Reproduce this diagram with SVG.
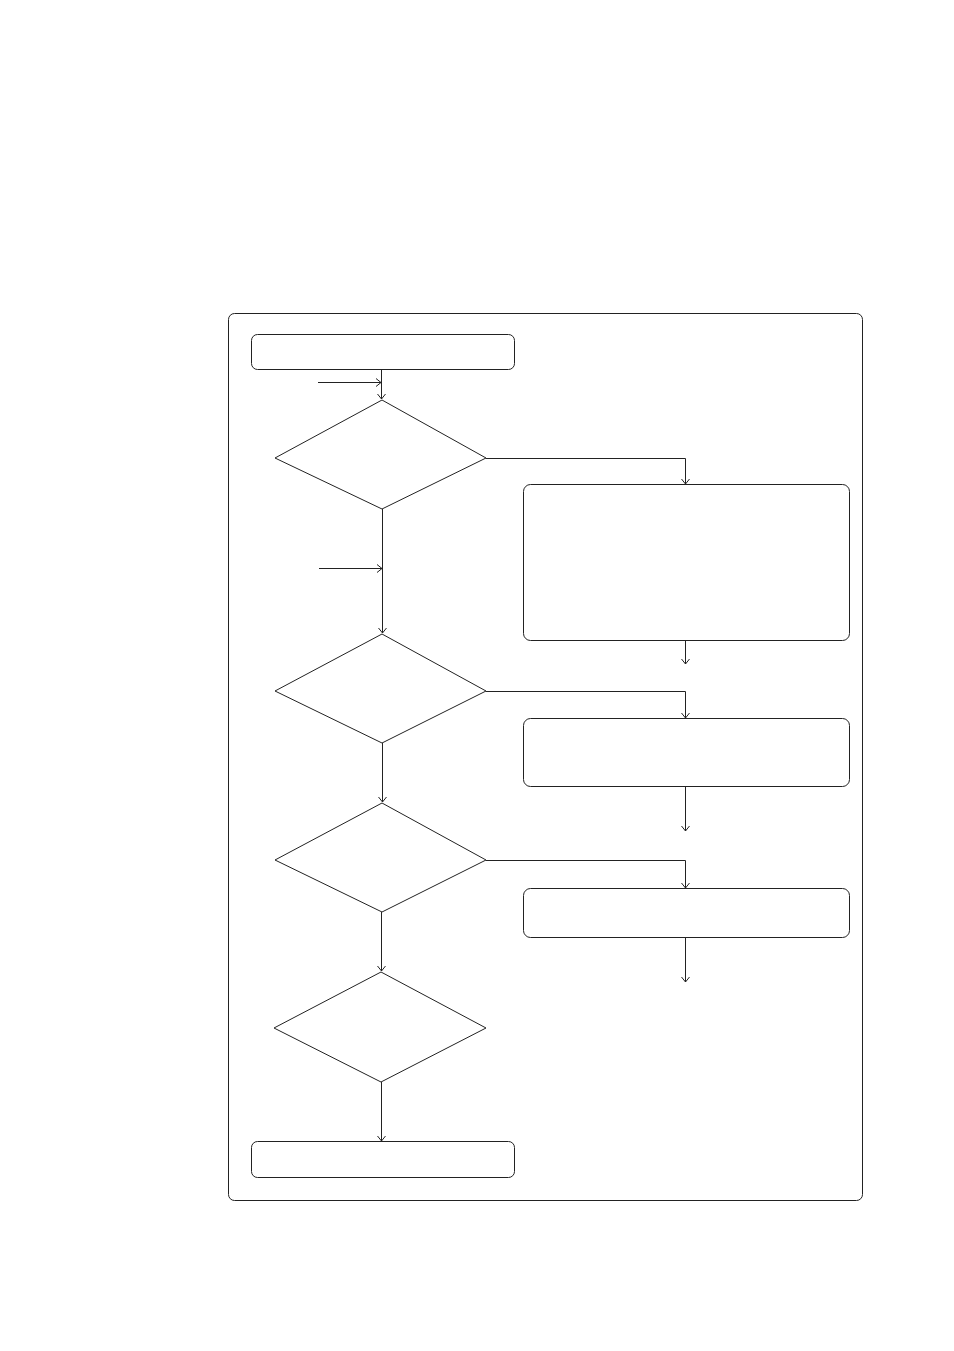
<svg xmlns="http://www.w3.org/2000/svg" width="954" height="1351" viewBox="0 0 954 1351">
<style>
.n{fill:#fff;stroke:#222;stroke-width:1}
.c{fill:none;stroke:#222;stroke-width:1}
</style>
<defs>
<marker id="ah" markerWidth="10" markerHeight="10" refX="9" refY="5" orient="auto" markerUnits="userSpaceOnUse">
<path d="M4,1 L9,5 L4,9" fill="none" stroke="#222" stroke-width="1"/>
</marker>
</defs>
<rect width="954" height="1351" fill="#fff"/>
<g id="frame"><rect class="n" x="228.5" y="313.5" width="634" height="887" rx="6"/></g>
<g id="start"><rect class="n" x="251.5" y="334.5" width="263" height="35" rx="6"/></g>
<g id="d1"><polygon class="n" points="382,400 486,458 382,509 275,458"/></g>
<g id="b1"><rect class="n" x="523.5" y="484.5" width="326" height="156" rx="7"/></g>
<g id="d2"><polygon class="n" points="382,634 486,691 382,743 275,691"/></g>
<g id="b2"><rect class="n" x="523.5" y="718.5" width="326" height="68" rx="7"/></g>
<g id="d3"><polygon class="n" points="382,803 486,860 382,912 275,860"/></g>
<g id="b3"><rect class="n" x="523.5" y="888.5" width="326" height="49" rx="7"/></g>
<g id="d4"><polygon class="n" points="381,972 486,1028 381,1082 274,1028"/></g>
<g id="end"><rect class="n" x="251.5" y="1141.5" width="263" height="36" rx="6"/></g>
<g id="connectors">
<path class="c" d="M381.5,370 V399" marker-end="url(#ah)"/>
<path class="c" d="M318,382.5 H381" marker-end="url(#ah)"/>
<path class="c" d="M382.5,509 V633" marker-end="url(#ah)"/>
<path class="c" d="M319,568.5 H382" marker-end="url(#ah)"/>
<path class="c" d="M486,458.5 H685.5 V484" marker-end="url(#ah)"/>
<path class="c" d="M685.5,641 V664" marker-end="url(#ah)"/>
<path class="c" d="M486,691.5 H685.5 V718" marker-end="url(#ah)"/>
<path class="c" d="M685.5,787 V831" marker-end="url(#ah)"/>
<path class="c" d="M382.5,743 V802" marker-end="url(#ah)"/>
<path class="c" d="M486,860.5 H685.5 V888" marker-end="url(#ah)"/>
<path class="c" d="M685.5,938 V982" marker-end="url(#ah)"/>
<path class="c" d="M381.5,912 V971" marker-end="url(#ah)"/>
<path class="c" d="M381.5,1082 V1141" marker-end="url(#ah)"/>
</g>
</svg>
